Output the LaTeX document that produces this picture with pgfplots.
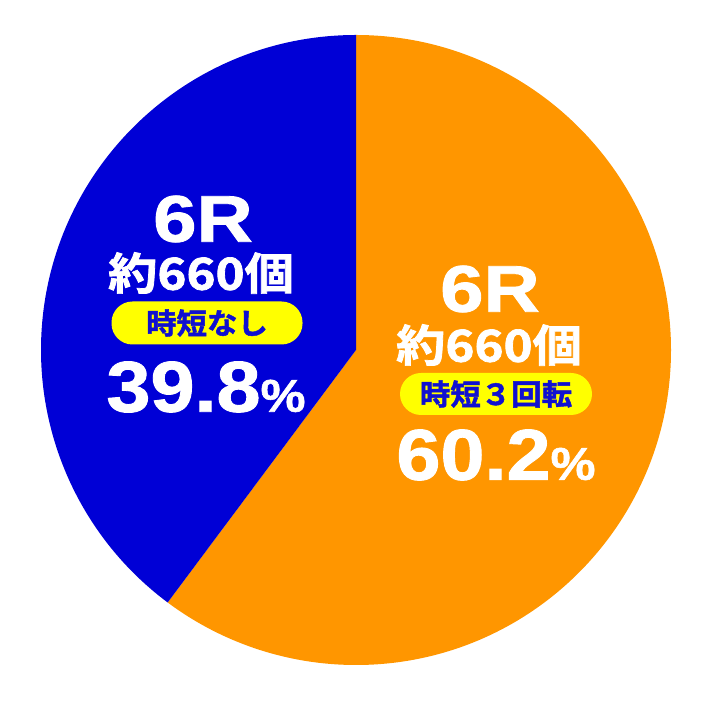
\documentclass[border=0pt]{standalone}
\usepackage{pgfplots}
\pgfplotsset{compat=1.18}
\usepackage{fontspec}
\setmainfont{Liberation Sans}
\newfontfamily\heavy{Liberation Sans Bold}[FakeBold=1.2]
\newfontfamily\jp{Noto Sans CJK JP Bold}[FakeBold=1.6]
\definecolor{pieblue}{RGB}{0,0,214}
\definecolor{pieorange}{RGB}{255,150,0}
\definecolor{pillyellow}{RGB}{255,255,0}
\definecolor{pilltext}{RGB}{16,16,208}
% shares of the two outcomes (percent)
\def\shareA{60.2}
\def\shareB{39.8}
\begin{document}
\begin{tikzpicture}
\begin{axis}[
    hide axis,
    x=1pt, y=1pt,
    xmin=0, xmax=712, ymin=0, ymax=701,
    scale only axis,
    clip=false,
]
    \path (axis cs:0,0) rectangle (axis cs:712,701);
    \pgfmathsetmacro{\endA}{90-3.6*\shareA}
    \fill[pieorange] (axis cs:356,351) -- (axis cs:356,666)
        arc[start angle=90, end angle=\endA, radius=315pt] -- cycle;
    \fill[pieblue] (axis cs:356,351) -- (axis cs:356,666)
        arc[start angle=90, end angle=\endA+360, radius=315pt] -- cycle;

    % left label (blue slice)
    \node[white, xscale=1.18, font=\heavy\fontsize{66}{66}\selectfont] at (axis cs:203,482) {6R};
    \node[white, xscale=1.12, font=\jp\fontsize{44}{44}\selectfont] at (axis cs:201,428) {約660個};
    \node[fill=pillyellow, rounded corners=21pt, minimum width=191pt, minimum height=43pt,
          inner sep=0pt] at (axis cs:207,378) {};
    \node[text=pilltext, xscale=1.05, font=\jp\fontsize{29}{29}\selectfont]
          at (axis cs:207,378) {時短なし};
    \node[white, xscale=1.1, font=\heavy\fontsize{72}{72}\selectfont] at (axis cs:206,314)
          {39.8{\fontsize{46}{46}\selectfont\%}};

    % right label (orange slice)
    \node[white, xscale=1.18, font=\heavy\fontsize{66}{66}\selectfont] at (axis cs:490,412) {6R};
    \node[white, xscale=1.12, font=\jp\fontsize{44}{44}\selectfont] at (axis cs:489,356) {約660個};
    \node[fill=pillyellow, rounded corners=21pt, minimum width=192pt, minimum height=42pt,
          inner sep=0pt] at (axis cs:496,307) {};
    \node[text=pilltext, xscale=1.05, font=\jp\fontsize{29}{29}\selectfont]
          at (axis cs:496,307) {時短３回転};
    \node[white, xscale=1.1, font=\heavy\fontsize{72}{72}\selectfont] at (axis cs:496,246)
          {60.2{\fontsize{46}{46}\selectfont\%}};
\end{axis}
\end{tikzpicture}
\end{document}
